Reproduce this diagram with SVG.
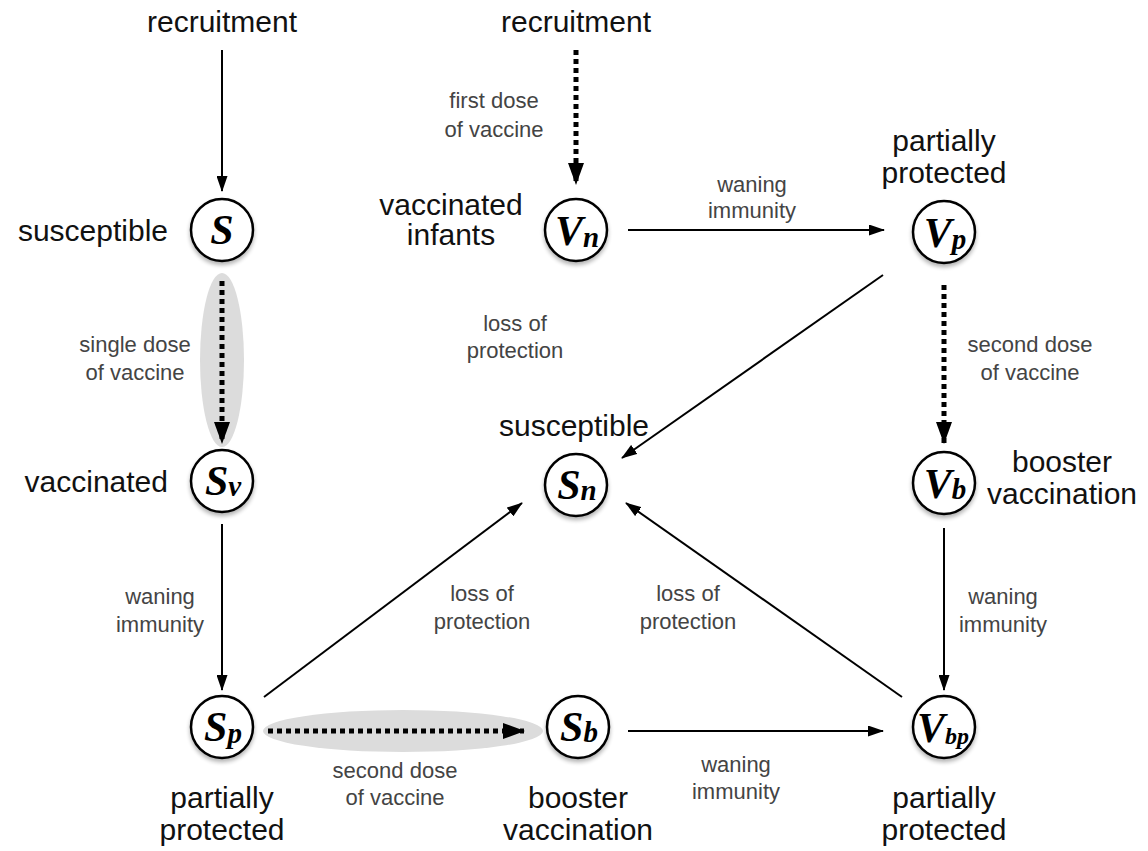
<svg xmlns="http://www.w3.org/2000/svg" width="1148" height="851" viewBox="0 0 1148 851">
<style>
.nc{fill:#fff;stroke:#000;stroke-width:2.5;filter:url(#sh)}
.sym{font-family:"Liberation Serif","Times New Roman",serif;font-weight:bold;font-style:italic;font-size:42px;text-anchor:middle;fill:#000}
.sub{font-size:29px}
.sub2{font-size:24px}
.lbl{font-family:"Liberation Sans",Arial,sans-serif;font-size:30px;fill:#111}
.sm{font-family:"Liberation Sans",Arial,sans-serif;font-size:22px;fill:#444;text-anchor:middle}
.mid{text-anchor:middle}
.end{text-anchor:end}
.e{stroke:#000;stroke-width:2;fill:none;marker-end:url(#a)}
.d{stroke:#000;stroke-width:5;stroke-dasharray:5 4;fill:none;marker-end:url(#ad)}
.hl{fill:#dcdcdc}
</style>
<defs>
<filter id="sh" x="-30%" y="-30%" width="160%" height="170%">
<feGaussianBlur in="SourceAlpha" stdDeviation="2"/>
<feOffset dy="3" result="b"/>
<feComponentTransfer><feFuncA type="linear" slope="0.3"/></feComponentTransfer>
<feMerge><feMergeNode/><feMergeNode in="SourceGraphic"/></feMerge>
</filter>
<marker id="a" markerUnits="userSpaceOnUse" markerWidth="16" markerHeight="11" refX="15" refY="5.5" orient="auto"><path d="M0,0 L16,5.5 L0,11 z" fill="#000"/></marker>
<marker id="ad" markerUnits="userSpaceOnUse" markerWidth="22" markerHeight="16" refX="21" refY="8" orient="auto"><path d="M0,0 L22,8 L0,16 z" fill="#000"/></marker>
</defs>
<g id="highlights">
<ellipse class="hl" cx="222" cy="360" rx="22" ry="87"/>
<ellipse class="hl" cx="403" cy="731" rx="140" ry="21"/>
</g>
<g id="connectors">
<line class="e" x1="222" y1="50" x2="222" y2="191"/>
<line class="d" x1="222" y1="281" x2="222" y2="443"/>
<line class="e" x1="222" y1="524" x2="222" y2="690"/>
<line class="d" x1="268" y1="731" x2="524" y2="731"/>
<line class="e" x1="264" y1="697" x2="522" y2="503"/>
<line class="e" x1="628" y1="731" x2="883" y2="731"/>
<line class="e" x1="902" y1="697" x2="626" y2="503"/>
<line class="e" x1="944" y1="528" x2="944" y2="690"/>
<line class="d" x1="944" y1="285" x2="944" y2="443"/>
<line class="e" x1="883" y1="275" x2="622" y2="458"/>
<line class="e" x1="628" y1="230" x2="884" y2="230"/>
<line class="d" x1="576" y1="50" x2="576" y2="184"/>
</g>
<g id="labels">
<text class="lbl mid" x="222" y="32">recruitment</text>
<text class="lbl mid" x="576" y="32">recruitment</text>
<text class="sm" x="494" y="108">first dose</text>
<text class="sm" x="494" y="137">of vaccine</text>
<text class="sm" x="752" y="192">waning</text>
<text class="sm" x="752" y="218">immunity</text>
<text class="sm" x="135" y="352">single dose</text>
<text class="sm" x="135" y="380">of vaccine</text>
<text class="sm" x="515" y="331">loss of</text>
<text class="sm" x="515" y="358">protection</text>
<text class="sm" x="1030" y="352">second dose</text>
<text class="sm" x="1030" y="380">of vaccine</text>
<text class="sm" x="160" y="604">waning</text>
<text class="sm" x="160" y="632">immunity</text>
<text class="sm" x="482" y="601">loss of</text>
<text class="sm" x="482" y="629">protection</text>
<text class="sm" x="688" y="601">loss of</text>
<text class="sm" x="688" y="629">protection</text>
<text class="sm" x="1003" y="604">waning</text>
<text class="sm" x="1003" y="632">immunity</text>
<text class="sm" x="395" y="778">second dose</text>
<text class="sm" x="395" y="805">of vaccine</text>
<text class="sm" x="736" y="772">waning</text>
<text class="sm" x="736" y="799">immunity</text>
</g>
<g id="node-S">
<circle class="nc" cx="222" cy="230" r="31"/>
<text class="sym" x="222" y="244">S</text>
<text class="lbl end" x="168" y="241">susceptible</text>
</g>
<g id="node-Sv">
<circle class="nc" cx="222" cy="481" r="31"/>
<text class="sym" x="223" y="495">S<tspan class="sub" dy="1">v</tspan></text>
<text class="lbl end" x="168" y="492">vaccinated</text>
</g>
<g id="node-Sp">
<circle class="nc" cx="222" cy="727" r="31"/>
<text class="sym" x="223" y="741">S<tspan class="sub" dy="2">p</tspan></text>
<text class="lbl mid" x="222" y="808">partially</text>
<text class="lbl mid" x="222" y="840">protected</text>
</g>
<g id="node-Vn">
<circle class="nc" cx="576" cy="230" r="31"/>
<text class="sym" x="577" y="245">V<tspan class="sub" dy="2">n</tspan></text>
<text class="lbl mid" x="451" y="215">vaccinated</text>
<text class="lbl mid" x="451" y="245">infants</text>
</g>
<g id="node-Sn">
<circle class="nc" cx="576" cy="485" r="31"/>
<text class="sym" x="577" y="499">S<tspan class="sub" dy="1">n</tspan></text>
<text class="lbl mid" x="574" y="436">susceptible</text>
</g>
<g id="node-Sb">
<circle class="nc" cx="578" cy="727" r="31"/>
<text class="sym" x="579" y="741">S<tspan class="sub" dy="1">b</tspan></text>
<text class="lbl mid" x="578" y="808">booster</text>
<text class="lbl mid" x="578" y="840">vaccination</text>
</g>
<g id="node-Vp">
<circle class="nc" cx="944" cy="232" r="31"/>
<text class="sym" x="945" y="247">V<tspan class="sub" dy="2">p</tspan></text>
<text class="lbl mid" x="944" y="151">partially</text>
<text class="lbl mid" x="944" y="183">protected</text>
</g>
<g id="node-Vb">
<circle class="nc" cx="944" cy="483" r="31"/>
<text class="sym" x="945" y="498">V<tspan class="sub" dy="1">b</tspan></text>
<text class="lbl mid" x="1062" y="472">booster</text>
<text class="lbl mid" x="1062" y="504">vaccination</text>
</g>
<g id="node-Vbp">
<circle class="nc" cx="944" cy="727" r="31"/>
<text class="sym" x="943" y="742">V<tspan class="sub2" dy="2">bp</tspan></text>
<text class="lbl mid" x="944" y="808">partially</text>
<text class="lbl mid" x="944" y="840">protected</text>
</g>
</svg>
